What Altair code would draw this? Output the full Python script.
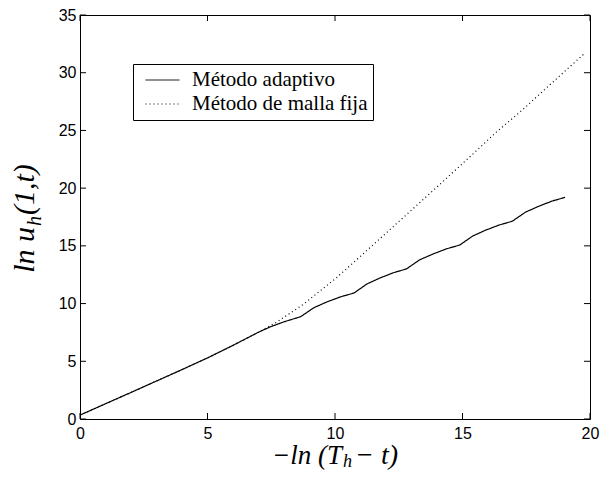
import altair as alt
import pandas as pd

# ---- data ----
series_names = ["Método adaptivo", "Método de malla fija"]

adapt_x = [0, 1, 2, 3, 4, 5, 6, 7, 7.46, 8.0, 8.65,
           9.17, 9.70, 10.23, 10.75,
           11.26, 11.78, 12.29, 12.8,
           13.32, 13.85, 14.37, 14.89,
           15.4, 15.92, 16.43, 16.95,
           17.47, 17.99, 18.5, 19.02]
adapt_y = [0.34, 1.32, 2.30, 3.29, 4.28, 5.29, 6.38, 7.52, 7.98, 8.42, 8.86,
           9.64, 10.16, 10.59, 10.92,
           11.71, 12.23, 12.67, 13.0,
           13.79, 14.30, 14.74, 15.07,
           15.85, 16.37, 16.80, 17.13,
           17.92, 18.43, 18.87, 19.2]

fixed_x = [0, 1, 2, 3, 4, 5, 6, 7, 7.72, 8.75, 10.04, 11, 12, 13, 14,
           15.38, 16.3, 17.31, 18.5, 19.8]
fixed_y = [0.34, 1.32, 2.30, 3.29, 4.28, 5.29, 6.38, 7.52, 8.4, 9.92, 12.2,
           14.1, 16.1, 18.1, 20.1, 22.9, 24.8, 26.7, 29.1, 31.7]

x_ticks = [0, 5, 10, 15, 20]
y_ticks = [0, 5, 10, 15, 20, 25, 30, 35]

x_title_parts = ["\u2212ln (T", "h", " \u2212 t)"]
y_title_parts = ["ln u", "h", "(1,t)"]

# ---- layout ----
W, H = 510, 404
TITLE_FONT = "Liberation Serif"
TICK_FONT = "Liberation Sans"

df = pd.concat([
    pd.DataFrame({"x": adapt_x, "y": adapt_y, "series": series_names[0]}),
    pd.DataFrame({"x": fixed_x, "y": fixed_y, "series": series_names[1]}),
], ignore_index=True)

x_scale = alt.Scale(domain=[0, 20], nice=False, zero=False)
y_scale = alt.Scale(domain=[0, 35], nice=False, zero=False)

x_axis = alt.Axis(values=x_ticks, title=None, tickSize=0, domain=False,
                  grid=False, labelFont=TICK_FONT, labelFontSize=16,
                  labelColor="black", labelPadding=6, labelFlush=False,
                  labelOverlap=False)
y_axis = alt.Axis(values=y_ticks, title=None, tickSize=0, domain=False,
                  grid=False, labelFont=TICK_FONT, labelFontSize=16,
                  labelColor="black", labelPadding=4, labelFlush=False,
                  labelOverlap=False)

lines = alt.Chart(df).mark_line(color="black", strokeWidth=1.2).encode(
    x=alt.X("x:Q", scale=x_scale, axis=x_axis),
    y=alt.Y("y:Q", scale=y_scale, axis=y_axis),
    strokeDash=alt.StrokeDash(
        "series:N",
        scale=alt.Scale(domain=series_names, range=[[1, 0], [1, 3]]),
        legend=alt.Legend(
            title=None, orient="none", legendX=53, legendY=49,
            strokeColor="black", fillColor="white", padding=5, rowPadding=2,
            labelFont=TITLE_FONT, labelFontSize=21, labelColor="black",
            labelLimit=0, labelOffset=12, clipHeight=22, symbolOffset=7,
            symbolType="stroke", symbolSize=1156, symbolStrokeWidth=1,
            symbolStrokeColor="black",
        ),
    ),
    detail="series:N",
    order=alt.Order("x:Q"),
)

xt = pd.DataFrame({"v": x_ticks})
yt = pd.DataFrame({"v": y_ticks})

xtick_bottom = alt.Chart(xt).mark_rule(color="black", strokeWidth=1).encode(
    x=alt.X("v:Q", scale=x_scale, axis=x_axis), y=alt.value(H), y2=alt.value(H - 6))
xtick_top = alt.Chart(xt).mark_rule(color="black", strokeWidth=1).encode(
    x=alt.X("v:Q", scale=x_scale, axis=x_axis), y=alt.value(0), y2=alt.value(6))
ytick_left = alt.Chart(yt).mark_rule(color="black", strokeWidth=1).encode(
    y=alt.Y("v:Q", scale=y_scale, axis=y_axis), x=alt.value(0), x2=alt.value(6))
ytick_right = alt.Chart(yt).mark_rule(color="black", strokeWidth=1).encode(
    y=alt.Y("v:Q", scale=y_scale, axis=y_axis), x=alt.value(W), x2=alt.value(W - 6))


def piece(label, x, y, align, size, angle=0):
    return alt.Chart(pd.DataFrame({"t": [label]})).mark_text(
        font=TITLE_FONT, fontStyle="italic", fontSize=size, color="black",
        align=align, baseline="alphabetic", angle=angle,
    ).encode(text="t:N", x=alt.value(x), y=alt.value(y))


XA = 262
XB = H + 45
xt_a = piece(x_title_parts[0], XA, XB, "right", 27)
xt_b = piece(x_title_parts[1], XA + 1, XB + 3, "left", 18)
xt_c = piece(x_title_parts[2], XA + 13, XB, "left", 28)

YA = 212
YX = -46
yt_a = piece(y_title_parts[0], YX, YA, "right", 30, 270)
yt_b = piece(y_title_parts[1], YX + 7, YA - 1, "left", 20, 270)
yt_c = piece(y_title_parts[2], YX, YA - 12, "left", 30, 270)

chart = alt.layer(
    lines, xtick_bottom, xtick_top, ytick_left, ytick_right,
    xt_a, xt_b, xt_c, yt_a, yt_b, yt_c,
).properties(
    width=W, height=H,
    autosize=alt.AutoSizeParams(type="none"),
    padding={"left": 72, "top": 7, "right": 10, "bottom": 51},
    background="white",
).configure_view(stroke="black", strokeWidth=1)

chart.save("out.html", embed_options={"renderer": "svg", "actions": False})
